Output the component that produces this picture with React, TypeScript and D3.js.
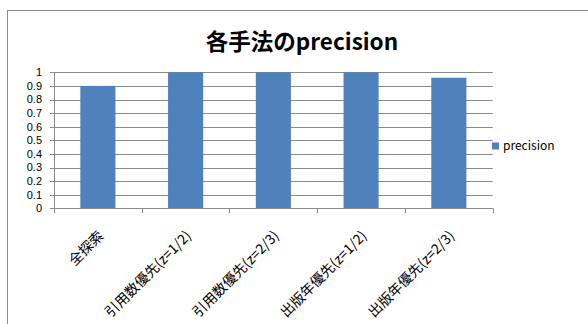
import React from "react";
import * as d3 from "d3";

const categories = ["全探索", "引用数優先(z=1/2)", "引用数優先(z=2/3)", "出版年優先(z=1/2)", "出版年優先(z=2/3)"];
const precision = [0.9, 1, 1, 1, 0.96];
const yTicks = [0, 0.1, 0.2, 0.3, 0.4, 0.5, 0.6, 0.7, 0.8, 0.9, 1];
const seriesName = "precision";
const title = "各手法のprecision";

const W = 588;
const H = 324;
const left = 54;
const right = 492.7;
const top = 72.3;
const bottom = 208.3;
const FONT = "'Noto Sans CJK JP', 'Noto Sans', sans-serif";
const NUMFONT = "'Liberation Sans', 'DejaVu Sans', sans-serif";
const BAR = "#4F81BD";
const GRID = "#8a8a8a";

export default function App() {
  const x = d3.scaleBand<string>().domain(categories).range([left, right]).paddingInner(0.6).paddingOuter(0.3);
  const xb = d3.scaleBand<string>().domain(categories).range([left, right]);
  const y = d3.scaleLinear().domain([0, 1]).range([bottom, top]);
  const fmt = (v: number) => (v === 0 || v === 1 ? String(v) : d3.format(".1f")(v));
  return (
    <svg width={W} height={H} style={{ position: "absolute", left: 0, top: 0, background: "#fff" }}>
      <rect x={7.5} y={10.5} width={W + 20} height={H + 20} fill="#fff" stroke="#8c8c8c" strokeWidth={1} />
      <text x={302} y={50} textAnchor="middle" fontFamily={FONT} fontWeight="bold" fontSize={22.5} fill="#000">
        {title}
      </text>
      {yTicks.map((t) => (
        <g key={t}>
          <line x1={left - 4} x2={right} y1={Math.round(y(t)) + 0.5} y2={Math.round(y(t)) + 0.5} stroke={GRID} strokeWidth={1} />
          <text x={42} y={y(t)} dy="0.35em" textAnchor="end" fontFamily={NUMFONT} fontSize={11} fill="#000">
            {fmt(t)}
          </text>
        </g>
      ))}
      {categories.map((c, i) => (
        <rect key={c} x={x(c)} y={y(precision[i])} width={x.bandwidth()} height={y(0) - y(precision[i])} fill={BAR} />
      ))}
      <line x1={left + 0.5} x2={left + 0.5} y1={top} y2={bottom} stroke={GRID} />
      <line x1={left} x2={right} y1={Math.round(bottom) + 0.5} y2={Math.round(bottom) + 0.5} stroke={GRID} />
      {categories.concat(["end"]).map((c, i) => {
        const xx = i < categories.length ? (xb(c) as number) : right;
        return <line key={"t" + i} x1={Math.round(xx) + 0.5} x2={Math.round(xx) + 0.5} y1={bottom} y2={bottom + 5} stroke={GRID} />;
      })}
      {categories.map((c) => {
        const cx = (xb(c) as number) + xb.bandwidth() / 2;
        return (
          <text
            key={"l" + c}
            transform={`translate(${cx + 3},${bottom + 25}) rotate(-45)`}
            textAnchor="end"
            dy="0.35em"
            fontFamily={FONT}
            fontSize={14}
            fill="#000"
          >
            {c}
          </text>
        );
      })}
      <rect x={492} y={142.5} width={7} height={7} fill={BAR} />
      <text x={503} y={146} dy="0.35em" fontFamily={FONT} fontSize={12} fill="#000">
        {seriesName}
      </text>
    </svg>
  );
}
